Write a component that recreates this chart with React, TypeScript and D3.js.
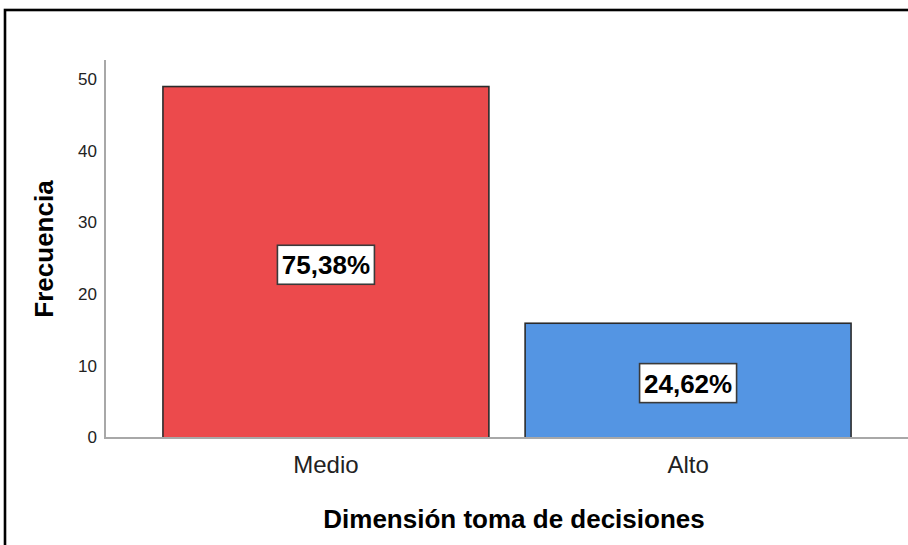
import React from "react";
import * as d3 from "d3";

const categories = ["Medio", "Alto"];
const frequencies = [49, 16];
const percentLabels = ["75,38%", "24,62%"];
const yTicks = [0, 10, 20, 30, 40, 50];
const barColors = ["#EC4A4C", "#5495E3"];

const W = 908;
const H = 545;

export default function App() {
  const x = d3
    .scaleBand<string>()
    .domain(categories)
    .range([105, 909])
    .paddingInner(0.1)
    .paddingOuter(0.16);
  const y = d3.scaleLinear().domain([0, 52.7]).range([438, 60]);
  const font = "'Liberation Sans', Arial, sans-serif";

  return (
    <svg
      width={W}
      height={H}
      style={{ position: "absolute", left: 0, top: 0, background: "#fff" }}
      fontFamily={font}
    >
      <rect x={0} y={0} width={W} height={H} fill="#fff" />
      {/* outer frame */}
      <rect x={5} y={10} width={W + 20} height={H + 20} fill="none" stroke="#000" strokeWidth={2.6} />

      {/* bars */}
      {categories.map((c, i) => (
        <rect
          key={c}
          x={x(c)!}
          y={y(frequencies[i])}
          width={x.bandwidth()}
          height={y(0) - y(frequencies[i])}
          fill={barColors[i]}
          stroke="#2b2b2b"
          strokeWidth={1.6}
        />
      ))}

      {/* axes */}
      <line x1={105} x2={105} y1={y(52.7)} y2={y(0)} stroke="#a8a8a8" strokeWidth={2} />
      <line x1={104} x2={908} y1={y(0)} y2={y(0)} stroke="#a8a8a8" strokeWidth={2} />

      {yTicks.map((t) => (
        <text
          key={t}
          x={97}
          y={y(t) + 1}
          textAnchor="end"
          dominantBaseline="middle"
          fontSize={17}
          fill="#222"
        >
          {t}
        </text>
      ))}

      {categories.map((c) => (
        <text
          key={c}
          x={x(c)! + x.bandwidth() / 2}
          y={473}
          textAnchor="middle"
          fontSize={24}
          fill="#222"
        >
          {c}
        </text>
      ))}

      {/* percentage labels */}
      {categories.map((c, i) => {
        const cx = x(c)! + x.bandwidth() / 2;
        const cy = (y(frequencies[i]) + y(0)) / 2 + 2.5;
        return (
          <g key={c + "-lab"}>
            <rect
              x={cx - 48.5}
              y={cy - 19.5}
              width={97}
              height={39}
              fill="#fff"
              stroke="#3a3a3a"
              strokeWidth={1.6}
            />
            <text
              x={cx}
              y={cy + 9.5}
              textAnchor="middle"
              fontSize={26}
              fontWeight="bold"
              fill="#000"
            >
              {percentLabels[i]}
            </text>
          </g>
        );
      })}

      {/* axis titles */}
      <text x={514} y={528} textAnchor="middle" fontSize={26} fontWeight="bold" fill="#000">
        Dimensión toma de decisiones
      </text>
      <text
        transform={`translate(52.5, ${(y(0) + y(52.7)) / 2}) rotate(-90)`}
        textAnchor="middle"
        fontSize={26}
        fontWeight="bold"
        fill="#000"
      >
        Frecuencia
      </text>
    </svg>
  );
}
